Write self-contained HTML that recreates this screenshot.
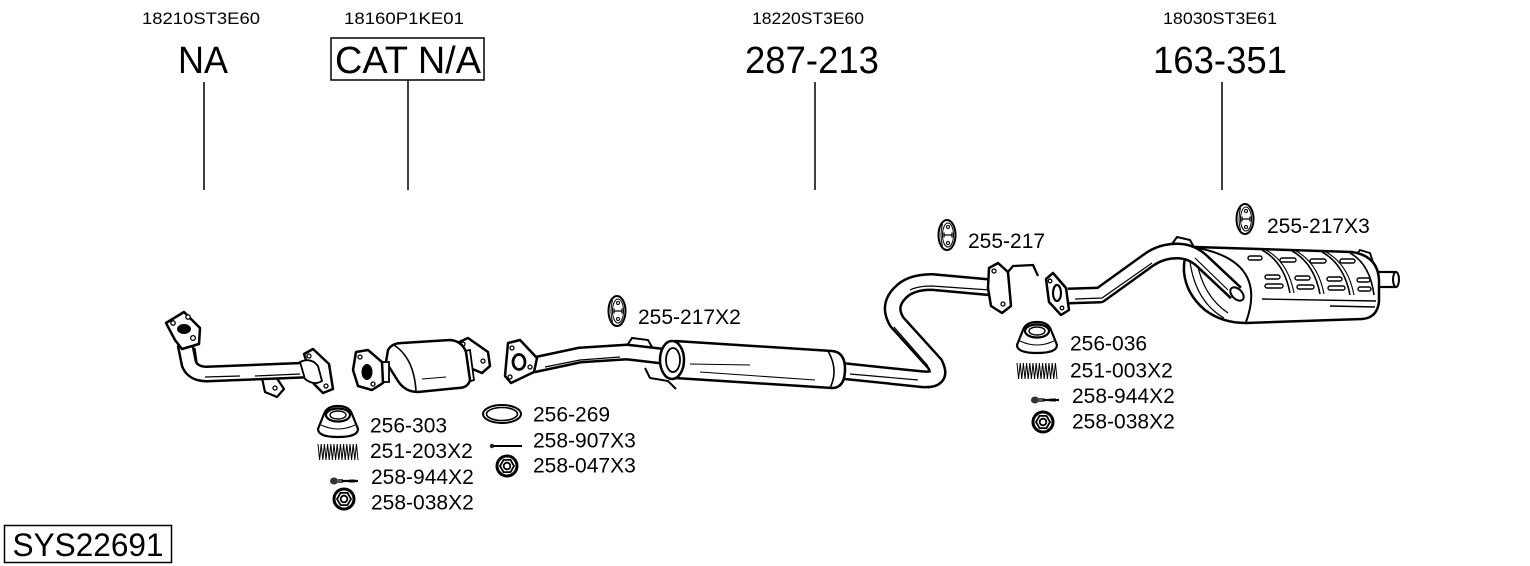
<!DOCTYPE html>
<html>
<head>
<meta charset="utf-8">
<style>
html,body{margin:0;padding:0;background:#fff;}
svg{display:block;}
text{font-family:"Liberation Sans",Arial,sans-serif;fill:#000;}
</style>
</head>
<body>
<svg width="1530" height="566" viewBox="0 0 1530 566" xmlns="http://www.w3.org/2000/svg">
<defs>
  <g id="hanger">
    <ellipse rx="8.5" ry="15" fill="#fff" stroke="#000" stroke-width="2"/>
    <path d="M-4.5,-11 Q-7.5,0 -4.5,11" stroke="#000" fill="none" stroke-width="1"/>
    <ellipse cx="1" rx="5.5" ry="12" fill="none" stroke="#000" stroke-width="1"/>
    <circle cx="1" cy="-8" r="1.5" fill="none" stroke="#000" stroke-width="1"/>
    <circle cx="1" cy="8" r="1.5" fill="none" stroke="#000" stroke-width="1"/>
    <path d="M-3,0 L5,0 M-3,-2.5 L-3,2.5 M5,-2.5 L5,2.5" stroke="#000" stroke-width="1.3" fill="none"/>
  </g>
  <g id="cone">
    <path d="M-20,8 Q-20,16 0,16 Q20,16 20,8 L14,-7 Q11,-15 0,-15 Q-11,-15 -14,-7 Z" fill="#fff" stroke="#000" stroke-width="2.2"/>
    <ellipse cx="0" cy="-6" rx="12" ry="6.5" fill="#fff" stroke="#000" stroke-width="2.2"/>
    <ellipse cx="0" cy="-6" rx="8" ry="4" fill="#fff" stroke="#000" stroke-width="1.4"/>
    <path d="M-17,4 Q0,12 17,4" fill="none" stroke="#000" stroke-width="1"/>
  </g>
  <g id="spring">
    <path d="M0,2 L1.6,18 L3.2,2 L4.8,18 L6.4,2 L8,18 L9.6,2 L11.2,18 L12.8,2 L14.4,18 L16,2 L17.6,18 L19.2,2 L20.8,18 L22.4,2 L24,18 L25.6,2 L27.2,18 L28.8,2 L30.4,18 L32,2 L33.6,18 L35.2,2 L36.8,18 L38.4,2 L40,18" fill="none" stroke="#000" stroke-width="1"/>
  </g>
  <g id="bolt">
    <ellipse cx="4" cy="0" rx="4" ry="3.5" fill="#333"/>
    <rect x="7" y="-2" width="6" height="4" fill="#555"/>
    <line x1="12" y1="0" x2="28" y2="0" stroke="#000" stroke-width="2.2"/>
    <path d="M20,-2 L20,2 M22,-2 L22,2 M24,-2 L24,2" stroke="#000" stroke-width="0.8"/>
  </g>
  <g id="nut">
    <circle r="10" fill="#fff" stroke="#000" stroke-width="3"/>
    <polygon points="7,0 3.5,6.1 -3.5,6.1 -7,0 -3.5,-6.1 3.5,-6.1" fill="#fff" stroke="#000" stroke-width="1.8"/>
    <circle r="3.3" fill="#fff" stroke="#000" stroke-width="1.8"/>
  </g>
</defs>

<!-- ============ TEXT HEADERS ============ -->
<text x="201" y="24" font-size="17" text-anchor="middle" textLength="118" lengthAdjust="spacingAndGlyphs">18210ST3E60</text>
<text x="404" y="24" font-size="17" text-anchor="middle" textLength="120" lengthAdjust="spacingAndGlyphs">18160P1KE01</text>
<text x="808" y="24" font-size="17" text-anchor="middle" textLength="112" lengthAdjust="spacingAndGlyphs">18220ST3E60</text>
<text x="1220" y="24" font-size="17" text-anchor="middle" textLength="114" lengthAdjust="spacingAndGlyphs">18030ST3E61</text>

<text x="203" y="73" font-size="38" text-anchor="middle" textLength="50" lengthAdjust="spacingAndGlyphs">NA</text>
<rect x="331" y="38" width="153" height="42" fill="none" stroke="#000" stroke-width="1.5"/>
<text x="408" y="73" font-size="38" text-anchor="middle" textLength="146" lengthAdjust="spacingAndGlyphs">CAT N/A</text>
<text x="812" y="73" font-size="38" text-anchor="middle" textLength="134" lengthAdjust="spacingAndGlyphs">287-213</text>
<text x="1220" y="73" font-size="38" text-anchor="middle" textLength="134" lengthAdjust="spacingAndGlyphs">163-351</text>

<g stroke="#000" stroke-width="1.5">
  <line x1="204" y1="82" x2="204" y2="190"/>
  <line x1="408" y1="80" x2="408" y2="190"/>
  <line x1="815" y1="82" x2="815" y2="190"/>
  <line x1="1222" y1="82" x2="1222" y2="190"/>
</g>

<rect x="4.5" y="525.5" width="167" height="37" fill="none" stroke="#000" stroke-width="1.5"/>
<text x="88" y="556" font-size="32" text-anchor="middle" textLength="151" lengthAdjust="spacingAndGlyphs">SYS22691</text>

<!-- ============ PART LABELS ============ -->
<g font-size="21">
  <text x="370" y="432.5">256-303</text>
  <text x="370" y="458">251-203X2</text>
  <text x="371" y="484">258-944X2</text>
  <text x="371" y="509.5">258-038X2</text>

  <text x="533" y="421.5">256-269</text>
  <text x="533" y="447.5">258-907X3</text>
  <text x="533" y="472.5">258-047X3</text>

  <text x="638" y="324">255-217X2</text>
  <text x="968" y="248">255-217</text>
  <text x="1267" y="233">255-217X3</text>

  <text x="1070" y="350.5">256-036</text>
  <text x="1070" y="377.5">251-003X2</text>
  <text x="1072" y="403">258-944X2</text>
  <text x="1072" y="428.5">258-038X2</text>
</g>

<!-- ============ SMALL PARTS ============ -->
<use href="#cone" x="338" y="421"/>
<use href="#spring" x="318" y="442"/>
<use href="#bolt" x="330" y="481"/>
<use href="#nut" x="344" y="499"/>

<ellipse cx="502" cy="414" rx="19" ry="9" fill="none" stroke="#000" stroke-width="2"/>
<ellipse cx="502" cy="414" rx="15.5" ry="6.5" fill="none" stroke="#000" stroke-width="1.6"/>
<circle cx="492" cy="446" r="2.2" fill="#222"/>
<line x1="493" y1="446" x2="522" y2="446" stroke="#000" stroke-width="2"/>
<use href="#nut" x="507" y="466"/>

<use href="#cone" x="1037" y="337"/>
<use href="#spring" x="1017" y="361"/>
<use href="#bolt" x="1031" y="400"/>
<use href="#nut" x="1043" y="422"/>

<use href="#hanger" x="617" y="311"/>
<use href="#hanger" x="947" y="235"/>
<use href="#hanger" x="1245" y="219"/>

<!-- ============ FRONT PIPE ============ -->
<path d="M262,378 L272,371 L284,389 L277,397 L265,392 Z" fill="#fff" stroke="#000" stroke-width="2.2" stroke-linejoin="round"/>
<circle cx="275" cy="388" r="2" fill="#fff" stroke="#000" stroke-width="1.3"/>
<path d="M185,344 L189,364 Q193,374 207,374 L308,370" fill="none" stroke="#000" stroke-width="17" stroke-linejoin="round"/>
<path d="M185,344 L189,364 Q193,374 207,374 L308,370" fill="none" stroke="#fff" stroke-width="12"/>
<path d="M205,377 L240,376 M255,376 L300,374 M195,348 L197,362" fill="none" stroke="#000" stroke-width="1.2"/>
<path d="M166,323 L184,312 L200,328 L199,344 L182,349 L175,340 Z" fill="#fff" stroke="#000" stroke-width="2.5" stroke-linejoin="round"/>
<ellipse cx="184" cy="329" rx="7" ry="5" fill="#000"/>
<circle cx="173" cy="323" r="2.2" fill="#fff" stroke="#000" stroke-width="1.3"/>
<circle cx="188" cy="317" r="2.2" fill="#fff" stroke="#000" stroke-width="1.3"/>
<circle cx="193" cy="338" r="2.4" fill="#fff" stroke="#000" stroke-width="1.3"/>
<path d="M304,354 L313,349 L329,364 L333,389 L323,393 L314,384 Z" fill="#fff" stroke="#000" stroke-width="2.5" stroke-linejoin="round"/>
<path d="M300,362 Q311,357 318,366 L322,381 Q314,386 305,379 Z" fill="#fff" stroke="#000" stroke-width="1.8"/>
<circle cx="309" cy="356" r="2" fill="#fff" stroke="#000" stroke-width="1.3"/>
<circle cx="326" cy="386" r="2" fill="#fff" stroke="#000" stroke-width="1.3"/>

<!-- ============ CATALYST ============ -->
<path d="M457,343 L468,338 L488,352 L490,366 L482,373 L470,368 Z" fill="#fff" stroke="#000" stroke-width="2.5" stroke-linejoin="round"/>
<circle cx="463" cy="344" r="2" fill="#fff" stroke="#000" stroke-width="1.3"/>
<circle cx="483" cy="361" r="2" fill="#fff" stroke="#000" stroke-width="1.3"/>
<path d="M458,352 L470,350 L474,380 L462,384 Z" fill="#fff" stroke="#000" stroke-width="1.8"/>
<path d="M388,350 Q392,343 402,343 L450,340 Q462,341 466,352 L470,380 Q468,388 458,388 L418,392 Q405,392 398,381 L386,362 Z" fill="#fff" stroke="#000" stroke-width="2.5"/>
<path d="M394,345 Q414,358 416,391" fill="none" stroke="#000" stroke-width="1.6"/>
<path d="M422,379 L446,377" stroke="#000" stroke-width="1.1"/>
<rect x="379" y="362" width="10" height="20" fill="#fff" stroke="#000" stroke-width="1.8"/>
<path d="M356,352 L368,350 L382,362 L383,383 L372,390 L358,386 L353,370 Z" fill="#fff" stroke="#000" stroke-width="2.5" stroke-linejoin="round"/>
<ellipse cx="367" cy="372" rx="5.5" ry="8" fill="#000"/>
<circle cx="360" cy="357" r="2" fill="#fff" stroke="#000" stroke-width="1.3"/>
<circle cx="373" cy="384" r="2" fill="#fff" stroke="#000" stroke-width="1.3"/>

<!-- ============ MIDDLE PIPE + RESONATOR ============ -->
<path d="M533,365 L580,355 L627,352 L670,357" fill="none" stroke="#000" stroke-width="17" stroke-linejoin="round"/>
<path d="M533,365 L580,355 L627,352 L670,357" fill="none" stroke="#fff" stroke-width="12"/>
<path d="M545,367 L580,360 L620,357" fill="none" stroke="#000" stroke-width="1.2"/>
<path d="M628,344 L632,338 L648,340 L652,347" fill="none" stroke="#000" stroke-width="2"/>
<path d="M645,368 L650,378 L668,381 L676,389" fill="none" stroke="#000" stroke-width="2"/>
<path d="M843,371 L920,379 Q944,382 935,364 L897,322 Q887,306 900,293 Q910,282 932,282 L998,288" fill="none" stroke="#000" stroke-width="18" stroke-linejoin="round"/>
<path d="M843,371 L920,379 Q944,382 935,364 L897,322 Q887,306 900,293 Q910,282 932,282 L998,288" fill="none" stroke="#fff" stroke-width="13"/>
<path d="M850,374 L918,380 M928,366 L894,327 M910,290 Q918,286 932,286 L990,290" fill="none" stroke="#000" stroke-width="1.2"/>
<path d="M675,341 L832,351 Q845,352 845,369 Q845,388 832,388 L675,378 Z" fill="#fff" stroke="#000" stroke-width="2.5" stroke-linejoin="round"/>
<path d="M828,351 Q839,370 830,388" fill="none" stroke="#000" stroke-width="1.6"/>
<path d="M690,364 L750,365 M700,372 L815,380" fill="none" stroke="#000" stroke-width="1.1"/>
<ellipse cx="672" cy="360" rx="12" ry="19" fill="#fff" stroke="#000" stroke-width="2.5"/>
<ellipse cx="673" cy="360" rx="7" ry="12" fill="#fff" stroke="#000" stroke-width="1.8"/>
<path d="M508,343 L520,340 L537,358 L534,372 L511,383 L505,376 Z" fill="#fff" stroke="#000" stroke-width="2.5" stroke-linejoin="round"/>
<ellipse cx="519" cy="362" rx="6" ry="7.5" fill="#fff" stroke="#000" stroke-width="2.8"/>
<circle cx="512" cy="348" r="2" fill="#fff" stroke="#000" stroke-width="1.3"/>
<circle cx="530" cy="367" r="2" fill="#fff" stroke="#000" stroke-width="1.3"/>
<circle cx="510" cy="377" r="2" fill="#fff" stroke="#000" stroke-width="1.3"/>
<path d="M989,268 L998,263 L1008,272 L1011,306 L1002,313 L991,306 L988,288 Z" fill="#fff" stroke="#000" stroke-width="2.5" stroke-linejoin="round"/>
<circle cx="994" cy="271" r="2" fill="#fff" stroke="#000" stroke-width="1.3"/>
<circle cx="1003" cy="304" r="2" fill="#fff" stroke="#000" stroke-width="1.3"/>
<path d="M1007,273 L1013,266 L1033,265 L1038,276" fill="none" stroke="#000" stroke-width="2.2"/>

<!-- ============ REAR MUFFLER ============ -->
<rect x="1372" y="272" width="24" height="15" fill="#fff" stroke="#000" stroke-width="2.2"/>
<ellipse cx="1396" cy="279.5" rx="3" ry="7.5" fill="#fff" stroke="#000" stroke-width="2"/>
<path d="M1172,244 L1177,237 L1190,240 L1195,249" fill="none" stroke="#000" stroke-width="2"/>
<path d="M1356,255 L1360,250 L1370,253 L1373,262" fill="none" stroke="#000" stroke-width="1.8"/>
<path d="M1195,247 L1352,252 Q1378,256 1379,280 L1379,302 Q1377,318 1362,319 L1246,323 Q1222,323 1205,310 Q1186,294 1184,272 Q1183,250 1195,247 Z" fill="#fff" stroke="#000" stroke-width="2.5" stroke-linejoin="round"/>
<path d="M1198,248 Q1268,262 1246,322" fill="none" stroke="#000" stroke-width="2"/>
<path d="M1190,262 Q1196,302 1224,318 M1197,262 Q1203,296 1228,313" fill="none" stroke="#000" stroke-width="1.2"/>
<g fill="none" stroke="#000">
  <path d="M1262,250 Q1284,262 1290,293" stroke-width="1.6"/>
  <path d="M1266,250 Q1288,262 1294,293" stroke-width="1.1"/>
  <path d="M1292,251 Q1314,263 1320,294" stroke-width="1.6"/>
  <path d="M1296,251 Q1318,263 1324,294" stroke-width="1.1"/>
  <path d="M1322,252 Q1344,264 1350,295" stroke-width="1.6"/>
  <path d="M1326,252 Q1348,264 1354,295" stroke-width="1.1"/>
  <path d="M1350,253 Q1370,264 1374,295" stroke-width="1.6"/>
</g>
<g fill="#fff" stroke="#000" stroke-width="1.4">
  <rect x="1248" y="256" width="14" height="4" rx="2"/>
  <rect x="1280" y="258" width="16" height="4" rx="2"/>
  <rect x="1310" y="259" width="16" height="4" rx="2"/>
  <rect x="1340" y="259" width="15" height="4" rx="2"/>
  <rect x="1265" y="275" width="15" height="4" rx="2"/>
  <rect x="1295" y="276" width="15" height="4" rx="2"/>
  <rect x="1327" y="277" width="15" height="4" rx="2"/>
  <rect x="1357" y="278" width="13" height="4" rx="2"/>
  <rect x="1265" y="284" width="18" height="4" rx="2"/>
  <rect x="1297" y="285" width="17" height="4" rx="2"/>
  <rect x="1328" y="286" width="17" height="4" rx="2"/>
  <rect x="1358" y="287" width="13" height="4" rx="2"/>
</g>
<path d="M1262,299 L1376,301 M1330,306 L1375,307" fill="none" stroke="#000" stroke-width="1.4"/>
<path d="M1068,296 L1100,295 L1150,259 Q1162,251 1177,251 Q1192,251 1203,262 L1236,293" fill="none" stroke="#000" stroke-width="17" stroke-linejoin="round"/>
<path d="M1068,296 L1100,295 L1150,259 Q1162,251 1177,251 Q1192,251 1203,262 L1236,293" fill="none" stroke="#fff" stroke-width="12"/>
<path d="M1075,299 L1102,298 L1152,263 M1195,258 L1228,290" fill="none" stroke="#000" stroke-width="1.2"/>
<ellipse cx="1237" cy="294" rx="5" ry="8" transform="rotate(-45 1237 294)" fill="#fff" stroke="#000" stroke-width="2"/>
<path d="M1046,279 L1053,273 L1066,288 L1069,310 L1061,315 L1049,302 Z" fill="#fff" stroke="#000" stroke-width="2.5" stroke-linejoin="round"/>
<ellipse cx="1057" cy="293" rx="4" ry="8" fill="#fff" stroke="#000" stroke-width="2.2"/>
<circle cx="1050" cy="281" r="1.8" fill="#fff" stroke="#000" stroke-width="1.3"/>
<circle cx="1062" cy="308" r="1.8" fill="#fff" stroke="#000" stroke-width="1.3"/>
</svg>
</body>
</html>
